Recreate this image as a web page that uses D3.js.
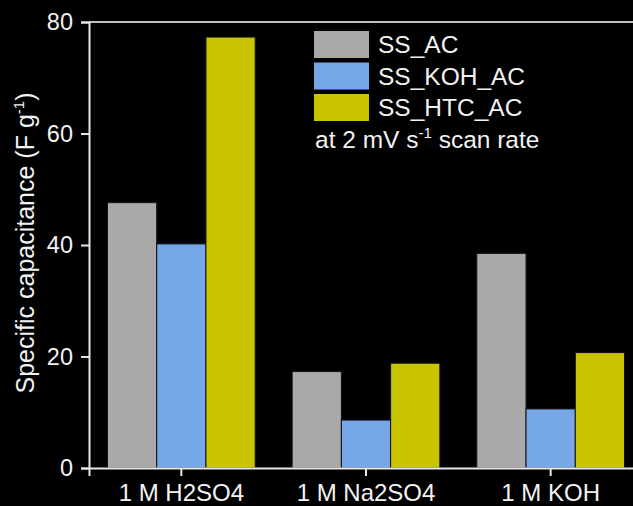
<!DOCTYPE html>
<html lang="en">
<head>
	<meta charset="UTF-8">
	<title>Specific capacitance</title>
	<script src="https://cdn.jsdelivr.net/npm/d3@7"></script>
	<style>
		html,body{
			margin:0;
			padding:0;
			background:#000;
		}
		svg{
			display:block;
			font-family:"Liberation Sans",Arial,sans-serif;
		}
		text{
			fill:#f2f2f2;
		}
	</style>
</head>
<body>
	<svg id="svg" width="633" height="506"></svg>
	<script>
		// data
		var electrolytes = ["1 M H2SO4", "1 M Na2SO4", "1 M KOH"];
		var seriesNames = ["SS_AC", "SS_KOH_AC", "SS_HTC_AC"];
		var ssAC = [47.6, 17.3, 38.5];
		var ssKohAC = [40.2, 8.6, 10.6];
		var ssHtcAC = [77.3, 18.8, 20.7];
		var yTicks = [0, 20, 40, 60, 80];
		var colors = ["#a9a9a9", "#76a7e8", "#c9c300"];

		var svg = d3.select("svg"),
			margin = {top: 22, left: 89},
			w = 554,
			h = 446;

		var g = svg.append("g")
			.attr("transform", "translate(" + margin.left + "," + margin.top + ")");

		var x0 = d3.scaleBand()
			.domain(electrolytes)
			.range([0, w])
			.paddingInner(0.2)
			.paddingOuter(0.1);
		var x1 = d3.scaleBand()
			.domain(seriesNames)
			.range([0, x0.bandwidth()]);
		var y = d3.scaleLinear()
			.domain([0, 80])
			.range([h, 0]);
		var color = d3.scaleOrdinal().domain(seriesNames).range(colors);

		var rows = electrolytes.map(function(e, i){
			return {name: e, values: [ssAC[i], ssKohAC[i], ssHtcAC[i]]};
		});

		// bars
		g.selectAll("g.grp")
			.data(rows)
			.enter().append("g")
			.attr("class", "grp")
			.attr("transform", (d)=>{ return "translate(" + x0(d.name) + ",0)"; })
			.selectAll("rect")
			.data((d)=>{ return d.values.map((v,k)=>{ return {s: seriesNames[k], v: v}; }); })
			.enter().append("rect")
			.attr("x", (d)=>{ return x1(d.s); })
			.attr("y", (d)=>{ return y(d.v); })
			.attr("width", x1.bandwidth())
			.attr("height", (d)=>{ return h - y(d.v); })
			.attr("fill", (d)=>{ return color(d.s); })
			.attr("stroke", "#111")
			.attr("stroke-width", 1);

		// frame top
		g.append("line")
			.attr("x1", 0).attr("x2", w)
			.attr("y1", 0).attr("y2", 0)
			.attr("stroke", "#bdbdbd")
			.attr("stroke-width", 2);

		// axes
		var yAxis = g.append("g")
			.call(d3.axisLeft(y).tickValues(yTicks).tickSize(8).tickPadding(8));
		var xAxis = g.append("g")
			.attr("transform", "translate(0," + h + ")")
			.call(d3.axisBottom(x0).tickSize(8).tickPadding(6));

		[yAxis, xAxis].forEach((a)=>{
			a.selectAll("path,line").attr("stroke", "#e6e6e6").attr("stroke-width", 2);
			a.selectAll("text").attr("fill", "#f2f2f2")
				.style("font-family", "'Liberation Sans',Arial,sans-serif");
		});
		yAxis.selectAll("text").style("font-size", "23.5px");
		xAxis.selectAll("text").style("font-size", "24px").attr("dy", "0.8em");

		// y title
		var yt = svg.append("text")
			.attr("transform", "translate(34," + (margin.top + h / 2 - 2) + ") rotate(-90)")
			.attr("text-anchor", "middle")
			.style("font-size", "25px");
		yt.append("tspan").text("Specific capacitance (F g");
		yt.append("tspan").text("-1").style("font-size", "15px").attr("dy", "-10");
		yt.append("tspan").text(")").attr("dy", "10");

		// legend
		var lg = svg.append("g").attr("transform", "translate(314,31)");
		var item = lg.selectAll("g")
			.data(seriesNames)
			.enter().append("g")
			.attr("transform", (d,i)=>{ return "translate(0," + i * 31.5 + ")"; });
		item.append("rect")
			.attr("width", 55)
			.attr("height", 27)
			.attr("fill", (d)=>{ return color(d); });
		item.append("text")
			.attr("x", 64)
			.attr("y", 22)
			.style("font-size", "24.5px")
			.text((d)=>{ return d; });

		var note = lg.append("text")
			.attr("x", 1)
			.attr("y", 117)
			.style("font-size", "24.5px");
		note.append("tspan").text("at 2 mV s");
		note.append("tspan").text("-1").style("font-size", "15px").attr("dy", "-10");
		note.append("tspan").text(" scan rate").attr("dy", "10");
	</script>
</body>
</html>
